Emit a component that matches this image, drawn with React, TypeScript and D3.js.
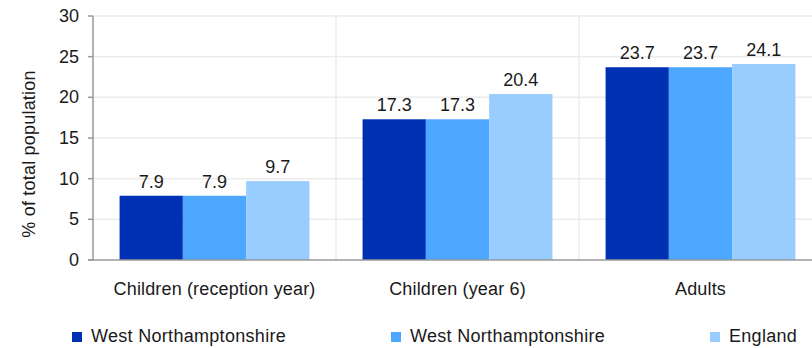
import React from "react";
import * as d3 from "d3";

const categories = ["Children (reception year)", "Children (year 6)", "Adults"];
const seriesNames = ["West Northamptonshire", "West Northamptonshire", "England"];
const westNorthants1 = [7.9, 17.3, 23.7];
const westNorthants2 = [7.9, 17.3, 23.7];
const england = [9.7, 20.4, 24.1];
const yTicks = [0, 5, 10, 15, 20, 25, 30];
const colors = ["#0030b4", "#4da6ff", "#99ccff"];

export default function App() {
  const W = 812, H = 348;
  const left = 93, right = 822, top = 16, bottom = 260;
  const font = "'Liberation Sans', Arial, sans-serif";
  const fs = 18;
  const series = [westNorthants1, westNorthants2, england];
  const x = d3.scaleBand<string>().domain(categories).range([left, right]).paddingInner(0).paddingOuter(0);
  const inner = d3.scaleBand<number>().domain([0, 1, 2]).range([0, x.bandwidth()]).paddingOuter(0.42).paddingInner(0);
  const y = d3.scaleLinear().domain([0, 30]).range([bottom, top]);
  const legendX = [72, 391, 710];
  return (
    <svg width={W} height={H} style={{ position: "absolute", left: 0, top: 0 }} fontFamily={font}>
      {yTicks.filter(t => t > 0).map(t => (
        <line key={"g" + t} x1={left} x2={W} y1={y(t)} y2={y(t)} stroke="#ececec" strokeWidth={1.5} />
      ))}
      {categories.slice(1).map(c => (
        <line key={"v" + c} x1={x(c)!} x2={x(c)!} y1={top} y2={bottom} stroke="#ececec" strokeWidth={1.5} />
      ))}
      {categories.map((c, ci) =>
        series.map((s, si) => {
          const bx = x(c)! + inner(si)!;
          const bw = inner.bandwidth();
          return (
            <g key={c + si}>
              <rect x={bx} y={y(s[ci])} width={bw} height={bottom - y(s[ci])} fill={colors[si]} />
              <text x={bx + bw / 2} y={y(s[ci]) - 8} textAnchor="middle" fontSize={fs} fill="#1a1a1a">
                {s[ci].toFixed(1)}
              </text>
            </g>
          );
        })
      )}
      <line x1={left} x2={left} y1={top} y2={bottom} stroke="#999" strokeWidth={1.5} />
      <line x1={left - 5} x2={W} y1={bottom} y2={bottom} stroke="#999" strokeWidth={1.5} />
      {yTicks.map(t => (
        <g key={"t" + t}>
          <line x1={left - 5} x2={left} y1={y(t)} y2={y(t)} stroke="#999" strokeWidth={1.5} />
          <text x={79} y={y(t) + 6} textAnchor="end" fontSize={fs} fill="#1a1a1a">{t}</text>
        </g>
      ))}
      <text transform={`translate(35,154) rotate(-90)`} textAnchor="middle" fontSize={fs} fill="#1a1a1a" letterSpacing={0.2}>
        % of total population
      </text>
      {categories.map(c => (
        <text key={"c" + c} x={x(c)! + x.bandwidth() / 2} y={295} textAnchor="middle" fontSize={fs} fill="#1a1a1a" letterSpacing={0.15}>
          {c}
        </text>
      ))}
      {seriesNames.map((n, i) => (
        <g key={"l" + i}>
          <rect x={legendX[i]} y={332} width={10} height={10} fill={colors[i]} />
          <text x={legendX[i] + 19} y={342} fontSize={fs} fill="#1a1a1a" letterSpacing={0.3}>{n}</text>
        </g>
      ))}
    </svg>
  );
}
